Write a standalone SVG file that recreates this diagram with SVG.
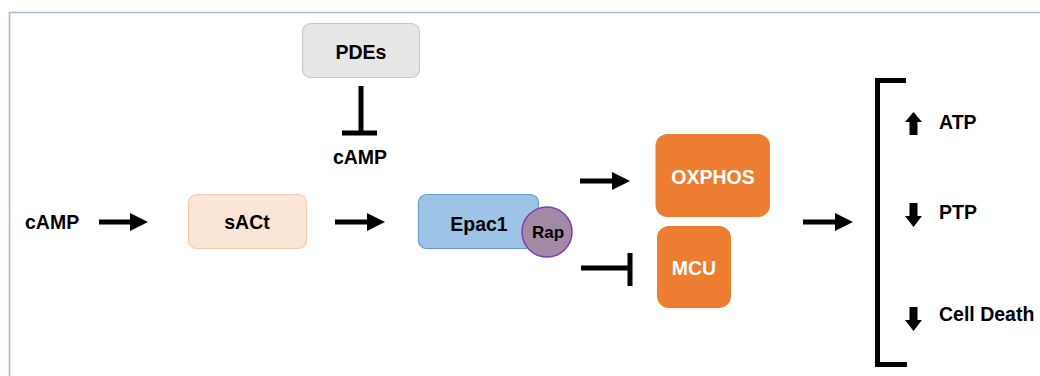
<svg xmlns="http://www.w3.org/2000/svg" width="1040" height="376" viewBox="0 0 1040 376">
<style>
  text { font-family: "Liberation Sans", Arial, sans-serif; font-weight: bold; fill: #000; }
  .lbl { font-size: 19.5px; }
  .mid { text-anchor: middle; }
  .white { fill: #fff; }
  .conn { stroke: #000; stroke-width: 5; fill: none; }
  .head { fill: #000; }
</style>
<defs>
  <polygon id="ah" points="0,-9 18,0 0,9"/>
</defs>
<rect x="0" y="0" width="1040" height="376" fill="#fff"/>
<path d="M9.5,376 V12.5 H1040" fill="none" stroke="#a8bdd6" stroke-width="1.6"/>

<g id="camp-in"><text class="lbl" x="25" y="229">cAMP</text></g>
<g id="sact">
  <rect x="188.5" y="194.5" width="118" height="54" rx="8" fill="#fbe5d6" stroke="#f8cbad" stroke-width="1.2"/>
  <text class="lbl mid" x="247" y="229">sACt</text>
</g>
<g id="pdes">
  <rect x="302.5" y="23.5" width="117" height="54" rx="8" fill="#e7e6e6" stroke="#c9c9c9" stroke-width="1.2"/>
  <text class="lbl mid" x="361" y="59">PDEs</text>
</g>
<g id="camp-top"><text class="lbl mid" x="360" y="164">cAMP</text></g>
<g id="epac1">
  <rect x="418.5" y="194.5" width="120" height="54" rx="8" fill="#9dc3e6" stroke="#6a9bcf" stroke-width="1.2"/>
  <text class="lbl mid" x="479" y="231">Epac1</text>
</g>
<g id="rap">
  <circle cx="547" cy="232" r="25" fill="#a48aa6" stroke="#7d3fb0" stroke-width="1.5"/>
  <text class="mid" x="548" y="238" font-size="17">Rap</text>
</g>
<g id="oxphos">
  <rect x="655.5" y="134" width="114.5" height="83" rx="12" fill="#ed7d31"/>
  <text class="lbl mid white" x="713" y="184">OXPHOS</text>
</g>
<g id="mcu">
  <rect x="657" y="226" width="74" height="82" rx="12" fill="#ed7d31"/>
  <text class="lbl mid white" x="694" y="275">MCU</text>
</g>
<g id="outcomes">
  <path class="conn" d="M906,80.5 H877.5 V364.5 H907"/>
  <polygon points="913.5,112 922,122 917.5,122 917.5,135 909.5,135 909.5,122 905,122" fill="#000"/>
  <text class="lbl" x="939" y="129">ATP</text>
  <polygon points="909.5,203 917.5,203 917.5,216 922,216 913.5,227 905,216 909.5,216" fill="#000"/>
  <text class="lbl" x="939" y="219">PTP</text>
  <polygon points="909.5,307 917.5,307 917.5,320 922,320 913.5,331 905,320 909.5,320" fill="#000"/>
  <text class="lbl" x="939" y="321">Cell Death</text>
</g>

<g id="connectors">
  <line class="conn" x1="99" y1="222" x2="132" y2="222"/>
  <use href="#ah" class="head" x="130" y="222"/>
  <line class="conn" x1="335" y1="222" x2="369" y2="222"/>
  <use href="#ah" class="head" x="367" y="222"/>
  <line class="conn" x1="361" y1="86" x2="361" y2="133"/>
  <line class="conn" x1="342" y1="133" x2="377" y2="133"/>
  <line class="conn" x1="580" y1="181" x2="614" y2="181"/>
  <use href="#ah" class="head" x="612" y="181"/>
  <line class="conn" x1="581" y1="268" x2="630" y2="268"/>
  <line class="conn" x1="630" y1="253" x2="630" y2="286"/>
  <line class="conn" x1="803" y1="222" x2="837" y2="222"/>
  <use href="#ah" class="head" x="835" y="222"/>
</g>
</svg>
